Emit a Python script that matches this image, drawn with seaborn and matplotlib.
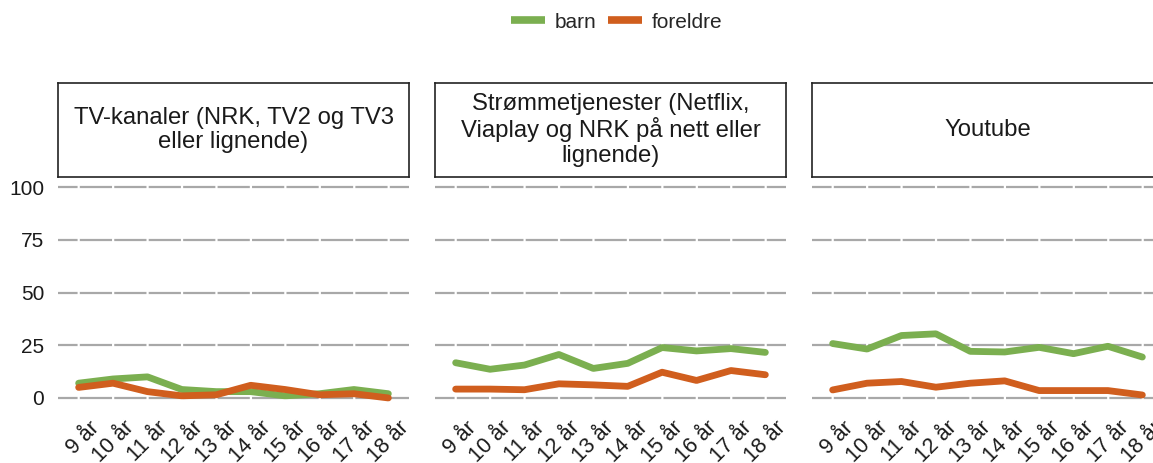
import matplotlib
matplotlib.use("Agg")
import matplotlib.pyplot as plt
import matplotlib.transforms as mtransforms
from matplotlib.lines import Line2D
import seaborn as sns
import pandas as pd

ages = ["9 år", "10 år", "11 år", "12 år", "13 år", "14 år", "15 år", "16 år", "17 år", "18 år"]
panels = [
    "TV-kanaler (NRK, TV2 og TV3\neller lignende)",
    "Strømmetjenester (Netflix,\nViaplay og NRK på nett eller\nlignende)",
    "Youtube",
]
groups = ["barn", "foreldre"]

tv_barn = [7, 9, 10, 4, 3, 3, 1, 2, 4, 2]
tv_foreldre = [5, 7, 3, 1, 1.5, 6, 4, 1.5, 2, 0]
strom_barn = [16.7, 13.6, 15.6, 20.6, 14, 16.4, 23.9, 22.3, 23.4, 21.6]
strom_foreldre = [4.2, 4.2, 3.9, 6.7, 6.2, 5.5, 12.2, 8.3, 13, 11]
yt_barn = [25.8, 23.2, 29.6, 30.4, 22.1, 21.8, 24, 21, 24.5, 19.4]
yt_foreldre = [3.8, 7, 7.8, 5.1, 7, 8.1, 3.5, 3.5, 3.5, 1.4]

values = {
    panels[0]: {"barn": tv_barn, "foreldre": tv_foreldre},
    panels[1]: {"barn": strom_barn, "foreldre": strom_foreldre},
    panels[2]: {"barn": yt_barn, "foreldre": yt_foreldre},
}

rows = []
for p in panels:
    for g in groups:
        for a, v in zip(ages, values[p][g]):
            rows.append({"panel": p, "gruppe": g, "alder": a, "verdi": v})
df = pd.DataFrame(rows)

colors = {"barn": "#7BAF50", "foreldre": "#D05E1E"}

sns.set_theme(style="white")
plt.rcParams["font.family"] = ["Liberation Sans", "DejaVu Sans"]
plt.rcParams["lines.scale_dashes"] = False

W, H = 1153, 463
fig = plt.figure(figsize=(W / 100, H / 100), dpi=100)

lefts = [58, 435, 812]
pw = 351
ax_top, ax_bot = 176.5, 408.5
strip_top = 83

grid_style = (9.1, (23.2, 1.6))

for i, (p, lx) in enumerate(zip(panels, lefts)):
    ax = fig.add_axes([lx / W, (H - ax_bot) / H, pw / W, (ax_bot - ax_top) / H])
    sub = df[df["panel"] == p]
    sns.lineplot(data=sub, x="alder", y="verdi", hue="gruppe", palette=colors,
                 hue_order=groups, linewidth=4.9, ax=ax, legend=False, sort=False)
    ax.set_xlim(-0.6, 9.6)
    ax.set_ylim(-5, 105)
    ax.set_yticks([0, 25, 50, 75, 100])
    ax.set_xticks(range(len(ages)))
    ax.tick_params(axis="y", length=0, pad=10)
    ax.tick_params(axis="x", length=0, pad=4)
    ax.set_xticklabels(ages, rotation=45, ha="right", va="top",
                       rotation_mode="anchor", fontsize=15.5, color="#1a1a1a")
    offset = mtransforms.ScaledTranslation(10 / 100, -3 / 100, fig.dpi_scale_trans)
    for lab in ax.get_xticklabels():
        lab.set_transform(lab.get_transform() + offset)
    if i == 0:
        ax.set_yticklabels(["0", "25", "50", "75", "100"], fontsize=15, color="#1a1a1a")
    else:
        ax.set_yticklabels([])
    ax.set_xlabel("")
    ax.set_ylabel("")
    for s in ax.spines.values():
        s.set_visible(False)
    ax.grid(False)
    for yv in [0, 25, 50, 75, 100]:
        ax.axhline(yv, color="#A8A8A8", linewidth=1.6, linestyle=grid_style, zorder=0)
    # strip
    sax = fig.add_axes([lx / W, (H - ax_top) / H, pw / W, (ax_top - strip_top) / H])
    sax.set_xticks([])
    sax.set_yticks([])
    for s in sax.spines.values():
        s.set_visible(True)
        s.set_color("#222222")
        s.set_linewidth(1.2)
    sax.set_facecolor("white")
    sax.text(0.5, 0.5, p, ha="center", va="center", fontsize=17.2,
             color="#1a1a1a", transform=sax.transAxes, linespacing=1.13)

handles = [Line2D([0], [0], color=colors[g], linewidth=5.5, solid_capstyle="butt") for g in groups]
fig.legend(handles, groups, loc="center", bbox_to_anchor=(617 / W, 1 - 22 / H),
           ncol=2, frameon=False, fontsize=15, handlelength=1.6,
           columnspacing=0.55, handletextpad=0.5)

fig.savefig("out.png", dpi=100, facecolor="white")
